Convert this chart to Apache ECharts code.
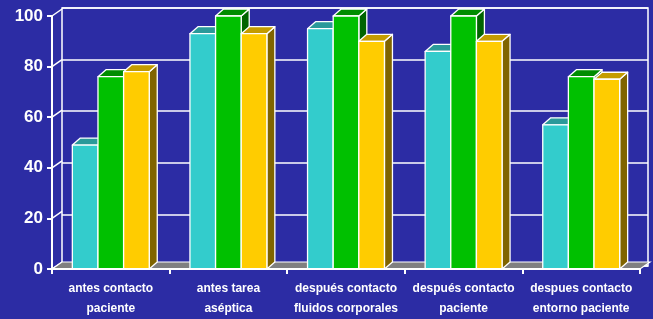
<!DOCTYPE html>
<html>
<head>
<meta charset="utf-8">
<script src="https://cdn.jsdelivr.net/npm/echarts@6/dist/echarts.min.js"></script>
<style>
  html, body { margin: 0; padding: 0; background: #2c2ca4; }
  #chart { width: 653px; height: 319px; }
</style>
</head>
<body>
<div id="chart"></div>
<script type="text/javascript">
  // datos
  var categories = [
    'antes contacto\npaciente',
    'antes tarea\naséptica',
    'después contacto\nfluidos corporales',
    'después contacto\npaciente',
    'despues contacto\nentorno paciente'
  ];
  var serieCian = [49, 93, 95, 86, 57];
  var serieVerde = [76, 100, 100, 100, 76];
  var serieAmarilla = [78, 93, 90, 90, 75];
  var yTicks = [0, 20, 40, 60, 80, 100];

  // colores: frente, techo, lado
  var colores = [
    ['#33cccc', '#2a9a9a', '#1f7f7f'],
    ['#00c000', '#008c00', '#006400'],
    ['#ffcc00', '#c49c00', '#806400']
  ];
  var WALL_DX = 10, WALL_DY = -7;
  var BAR_DX = 8, BAR_DY = -7;
  var fuente = 'Liberation Sans, Arial, sans-serif';

  function barras(idx) {
    return function (params, api) {
      var cat = api.value(0);
      var val = api.value(1);
      var bandW = api.size([1, 0])[0];
      var w = bandW * 0.218;
      var base = api.coord([cat, 0]);
      var top = api.coord([cat, val]);
      var x0 = base[0] - 1.5 * w + idx * w;
      var x1 = x0 + w;
      var yb = base[1], yt = top[1];
      var borde = { stroke: '#ffffff', lineWidth: 1.3, lineJoin: 'round' };
      var c = colores[idx];
      return {
        type: 'group',
        children: [
          { type: 'polygon', shape: { points: [[x1, yb], [x1 + BAR_DX, yb + BAR_DY], [x1 + BAR_DX, yt + BAR_DY], [x1, yt]] },
            style: Object.assign({ fill: c[2] }, borde) },
          { type: 'polygon', shape: { points: [[x0, yt], [x1, yt], [x1 + BAR_DX, yt + BAR_DY], [x0 + BAR_DX, yt + BAR_DY]] },
            style: Object.assign({ fill: c[1] }, borde) },
          { type: 'rect', shape: { x: x0, y: yt, width: w, height: yb - yt },
            style: Object.assign({ fill: c[0] }, borde) }
        ]
      };
    };
  }

  var myChart = echarts.init(document.getElementById('chart'));
  var option = {
    backgroundColor: '#2c2ca4',
    animation: false,
    grid: [
      { left: 52, right: 13, top: 16, bottom: 46 },
      { left: 52 + WALL_DX, right: 13 - WALL_DX + 2, top: 16 + WALL_DY - 1, bottom: 46 - WALL_DY,
        show: true, borderColor: '#ffffff', borderWidth: 1.5, backgroundColor: 'transparent' }
    ],
    xAxis: [
      {
        gridIndex: 0, type: 'category', data: categories,
        axisLine: { lineStyle: { color: '#ffffff', width: 2 } },
        axisTick: { show: true, length: 5, lineStyle: { color: '#ffffff', width: 2 } },
        axisLabel: { color: '#ffffff', fontFamily: fuente, fontWeight: 'bold', fontSize: 12,
          lineHeight: 20, margin: 10, interval: 0 },
        z: 5
      },
      { gridIndex: 1, type: 'category', data: categories, show: false }
    ],
    yAxis: [
      {
        gridIndex: 0, type: 'value', min: 0, max: 100, interval: 20,
        axisLine: { show: true, lineStyle: { color: '#ffffff', width: 2 } },
        axisTick: { show: true, length: 5, lineStyle: { color: '#ffffff', width: 2 } },
        axisLabel: { color: '#ffffff', fontFamily: fuente, fontWeight: 'bold', fontSize: 17, margin: 9 },
        splitLine: { show: false },
        z: 5
      },
      {
        gridIndex: 1, type: 'value', min: 0, max: 100, interval: 20,
        axisLine: { show: false }, axisTick: { show: false }, axisLabel: { show: false },
        splitLine: { show: true, lineStyle: { color: '#ffffff', width: 1.5 } }
      }
    ],
    series: [
      {
        // pared izquierda: lineas diagonales en cada marca
        type: 'custom', xAxisIndex: 0, yAxisIndex: 0, silent: true, z: 1,
        data: yTicks.map(function (v) { return [0, v]; }),
        renderItem: function (params, api) {
          var p = api.coord([0, api.value(1)]);
          var x = p[0] - api.size([1, 0])[0] / 2;
          return { type: 'line', shape: { x1: x, y1: p[1], x2: x + WALL_DX, y2: p[1] + WALL_DY },
            style: { stroke: '#ffffff', lineWidth: 1.5 } };
        }
      },
      {
        // piso gris
        type: 'custom', xAxisIndex: 0, yAxisIndex: 0, silent: true, z: 1,
        data: [[0, 0]],
        renderItem: function (params, api) {
          var half = api.size([1, 0])[0] / 2;
          var a = api.coord([0, 0]), b = api.coord([categories.length - 1, 0]);
          var xl = a[0] - half, xr = b[0] + half, y = a[1];
          return { type: 'polygon',
            shape: { points: [[xl, y], [xr, y], [xr + WALL_DX, y + WALL_DY], [xl + WALL_DX, y + WALL_DY]] },
            style: { fill: '#808080', stroke: '#ffffff', lineWidth: 1.2 } };
        }
      },
      { name: 'cian', type: 'custom', xAxisIndex: 0, yAxisIndex: 0, z: 2, renderItem: barras(0),
        data: serieCian.map(function (v, i) { return [i, v]; }) },
      { name: 'verde', type: 'custom', xAxisIndex: 0, yAxisIndex: 0, z: 2, renderItem: barras(1),
        data: serieVerde.map(function (v, i) { return [i, v]; }) },
      { name: 'amarilla', type: 'custom', xAxisIndex: 0, yAxisIndex: 0, z: 2, renderItem: barras(2),
        data: serieAmarilla.map(function (v, i) { return [i, v]; }) }
    ]
  };
  myChart.setOption(option);
</script>
</body>
</html>
